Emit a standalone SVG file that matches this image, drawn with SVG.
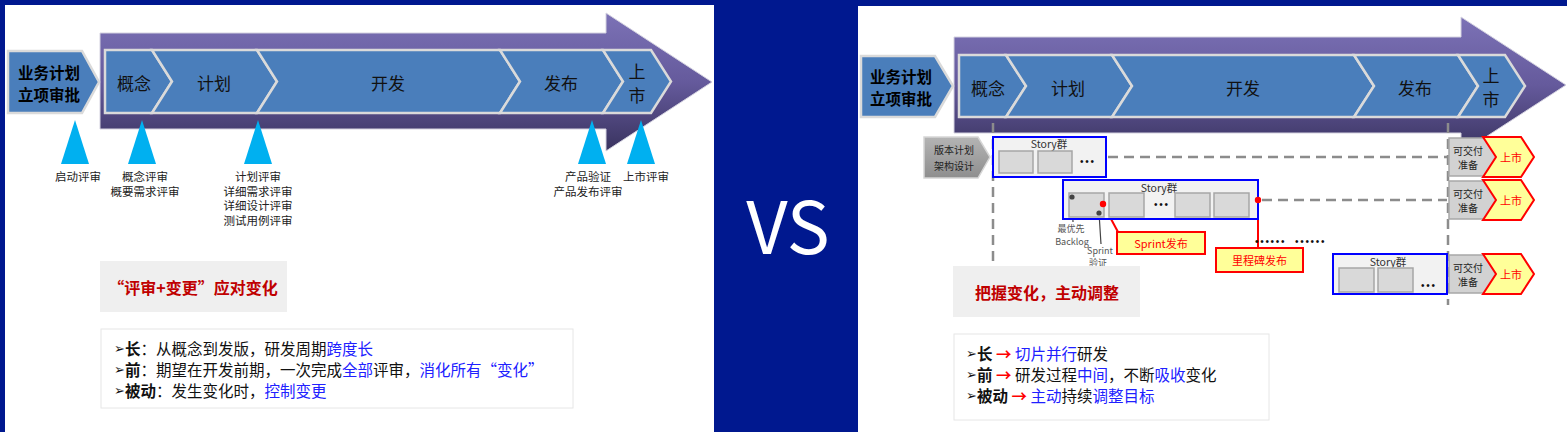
<svg xmlns="http://www.w3.org/2000/svg" width="1567" height="432" viewBox="0 0 1567 432">
<defs>
<linearGradient id="pg" x1="0" y1="0" x2="0" y2="1">
<stop offset="0" stop-color="#7c72b6"/>
<stop offset="0.5" stop-color="#655a9c"/>
<stop offset="1" stop-color="#39335f"/>
</linearGradient>
<linearGradient id="gg" x1="0" y1="0" x2="0" y2="1">
<stop offset="0" stop-color="#b4b4b4"/>
<stop offset="1" stop-color="#8e8e8e"/>
</linearGradient>
</defs>
<style>
text{font-family:"Noto Sans CJK SC","Noto Sans",sans-serif;dominant-baseline:central}
.stage{font-size:17px;fill:#111;text-anchor:middle}
.band{fill:#4a7ebb;stroke:#dadada;stroke-width:2.5}
.arrow{fill:url(#pg);stroke:#d4d2e0;stroke-width:1}
.tri{fill:#00b0f0}
.lbl{font-size:11.5px;fill:#222;text-anchor:middle}
.head{font-size:15.5px;font-weight:bold;fill:#000;text-anchor:middle}
.title{font-size:16px;font-weight:bold;fill:#c00000;text-anchor:middle}
.gbox{fill:#efefef}
.lbox{fill:#fff;stroke:#e6e6e6;stroke-width:1}
.list{font-size:15.5px;fill:#111}
.bul{font-size:13px;font-family:"DejaVu Sans",sans-serif}
.b{font-weight:bold}
.blue{fill:#2020ff}
.red{fill:#ff0000}
.story{fill:#f2f2f2;stroke:#0000ff;stroke-width:2}
.sbox{fill:#d9d9d9;stroke:#a6a6a6;stroke-width:1.5}
.stxt{font-size:10.5px;fill:#333;text-anchor:middle}
.dots{font-size:10px;fill:#111;font-family:"Liberation Sans",sans-serif;letter-spacing:1.7px}
.dash{stroke:#8c8c8c;stroke-width:2.5;stroke-dasharray:10 6;fill:none}
.gch{fill:#d2d2d2;stroke:#a8a8a8;stroke-width:1.5}
.ych{fill:#ffff99;stroke:#ff0000;stroke-width:2}
.rtxt{font-size:11px;fill:#ff0000;text-anchor:middle}
.ktxt{font-size:10px;fill:#222;text-anchor:middle}
.small{font-size:9px;fill:#555;text-anchor:middle}
.rline{stroke:#ff0000;stroke-width:2;fill:none}
.kline{stroke:#444;stroke-width:1.2;fill:none}
</style>

<rect x="0" y="0" width="1567" height="432" fill="#00188f"/>
<rect x="5" y="5" width="709" height="427" fill="#ffffff"/>
<rect x="858" y="6" width="709" height="426" fill="#ffffff"/>

<text x="788" y="222" font-family="Open Sans, Liberation Sans, sans-serif" font-size="72" fill="#ffffff" text-anchor="middle">VS</text>

<!-- LEFT PANEL -->
<g id="left-arrow">
<path class="arrow" d="M100,33 H606 V13 L712,82 L606,151 V129 H100 Z"/>
</g>
<g id="left-start">
<polygon class="band" points="8,51 82,51 99,82 82,113 8,113"/>
<text class="head" x="49" y="72">业务计划</text>
<text class="head" x="49" y="94">立项审批</text>
</g>
<g id="left-stage-concept">
<polygon class="band" points="105,50 152,50 172,81.5 152,113 105,113"/>
<text class="stage" x="134" y="82">概念</text>
</g>
<g id="left-stage-plan">
<polygon class="band" points="152,50 257,50 277,81.5 257,113 152,113 172,81.5"/>
<text class="stage" x="214" y="82">计划</text>
</g>
<g id="left-stage-dev">
<polygon class="band" points="257,50 500,50 520,81.5 500,113 257,113 277,81.5"/>
<text class="stage" x="388" y="82">开发</text>
</g>
<g id="left-stage-release">
<polygon class="band" points="500,50 603,50 623,81.5 603,113 500,113 520,81.5"/>
<text class="stage" x="561" y="82">发布</text>
</g>
<g id="left-stage-launch">
<polygon class="band" points="603,50 651,50 671,81.5 651,113 603,113 623,81.5"/>
<text class="stage" x="637" y="70">上</text>
<text class="stage" x="637" y="94">市</text>
</g>

<g id="review-start">
<polygon class="tri" points="75,120 61,164 89,164"/>
<text class="lbl" x="78" y="176">启动评审</text>
</g>
<g id="review-concept">
<polygon class="tri" points="142,120 128,164 156,164"/>
<text class="lbl" x="145" y="176">概念评审</text>
<text class="lbl" x="145" y="190.5">概要需求评审</text>
</g>
<g id="review-plan">
<polygon class="tri" points="258,120 244,164 272,164"/>
<text class="lbl" x="258" y="176">计划评审</text>
<text class="lbl" x="258" y="190.5">详细需求评审</text>
<text class="lbl" x="258" y="205">详细设计评审</text>
<text class="lbl" x="258" y="219.5">测试用例评审</text>
</g>
<g id="review-release">
<polygon class="tri" points="592,120 578,164 606,164"/>
<text class="lbl" x="588" y="176">产品验证</text>
<text class="lbl" x="588" y="190.5">产品发布评审</text>
</g>
<g id="review-launch">
<polygon class="tri" points="641,120 627,164 655,164"/>
<text class="lbl" x="646" y="176">上市评审</text>
</g>

<g id="left-title">
<rect class="gbox" x="100" y="261" width="187" height="51"/>
<text class="title" x="193" y="287">“评审+变更”应对变化</text>
</g>
<g id="left-list">
<rect class="lbox" x="101" y="329" width="472" height="79"/>
<text class="list" x="114" y="347.5"><tspan class="bul">➢</tspan><tspan class="b">长</tspan>：从概念到发版，研发周期<tspan class="blue">跨度长</tspan></text>
<text class="list" x="114" y="368.5"><tspan class="bul">➢</tspan><tspan class="b">前</tspan>：期望在开发前期，一次完成<tspan class="blue">全部</tspan>评审，<tspan class="blue">消化所有“变化”</tspan></text>
<text class="list" x="114" y="389.5"><tspan class="bul">➢</tspan><tspan class="b">被动</tspan>：发生变化时，<tspan class="blue">控制变更</tspan></text>
</g>

<!-- RIGHT PANEL -->
<g id="right-arrow">
<path class="arrow" d="M954,37 H1461 V17 L1566,85 L1461,153 V133 H954 Z"/>
</g>
<g id="right-start">
<polygon class="band" points="861,56 935,56 953,86 935,117 861,117"/>
<text class="head" x="901" y="76">业务计划</text>
<text class="head" x="901" y="98">立项审批</text>
</g>
<g id="right-stage-concept">
<polygon class="band" points="959,55 1006,55 1026,86 1006,117 959,117"/>
<text class="stage" x="988" y="87">概念</text>
</g>
<g id="right-stage-plan">
<polygon class="band" points="1006,55 1112,55 1132,86 1112,117 1006,117 1026,86"/>
<text class="stage" x="1068" y="87">计划</text>
</g>
<g id="right-stage-dev">
<polygon class="band" points="1112,55 1354,55 1374,86 1354,117 1112,117 1132,86"/>
<text class="stage" x="1243" y="87">开发</text>
</g>
<g id="right-stage-release">
<polygon class="band" points="1354,55 1458,55 1478,86 1458,117 1354,117 1374,86"/>
<text class="stage" x="1415" y="87">发布</text>
</g>
<g id="right-stage-launch">
<polygon class="band" points="1458,55 1505,55 1525,86 1505,117 1458,117 1478,86"/>
<text class="stage" x="1491" y="74">上</text>
<text class="stage" x="1491" y="98">市</text>
</g>

<g id="connectors">
<line class="dash" x1="993" y1="123" x2="993" y2="266"/>
<line class="dash" x1="1448" y1="123" x2="1448" y2="305"/>
<line class="dash" x1="1108" y1="157" x2="1447" y2="157"/>
<line class="dash" x1="1262" y1="200" x2="1447" y2="200"/>
<line class="rline" x1="1103" y1="204" x2="1118" y2="232"/>
<line class="rline" x1="1258" y1="200" x2="1258" y2="248"/>
<line class="kline" x1="1072" y1="197" x2="1073" y2="222"/>
<line class="kline" x1="1099" y1="213" x2="1101" y2="244"/>
</g>

<g id="version-plan">
<polygon points="924,137 978,137 990,157 978,178 924,178" fill="url(#gg)" stroke="#d6d6d6" stroke-width="1.5"/>
<text class="ktxt" x="954" y="149.5" font-size="10.5">版本计划</text>
<text class="ktxt" x="954" y="165" font-size="10.5">架构设计</text>
</g>

<g id="story-1">
<rect class="story" x="993" y="137" width="113" height="40"/>
<text class="stxt" x="1049" y="143">Story群</text>
<rect class="sbox" x="999" y="151" width="34" height="22"/>
<rect class="sbox" x="1038" y="151" width="34" height="22"/>
<text class="dots" x="1080" y="161">•••</text>
</g>
<g id="story-2">
<rect class="story" x="1063" y="180" width="195" height="39"/>
<text class="stxt" x="1159" y="187">Story群</text>
<rect class="sbox" x="1069" y="193" width="35" height="24"/>
<rect class="sbox" x="1109" y="193" width="35" height="24"/>
<text class="dots" x="1154" y="204">•••</text>
<rect class="sbox" x="1175" y="193" width="35" height="24"/>
<rect class="sbox" x="1214" y="193" width="35" height="24"/>
</g>
<g id="story-3">
<rect class="story" x="1333" y="254" width="114" height="40"/>
<text class="stxt" x="1388" y="261">Story群</text>
<rect class="sbox" x="1339" y="268" width="35" height="24"/>
<rect class="sbox" x="1378" y="268" width="35" height="24"/>
<text class="dots" x="1421" y="285">•••</text>
</g>

<g id="markers">
<circle cx="1072" cy="197" r="2.6" fill="#444"/>
<circle cx="1099" cy="213" r="2.6" fill="#444"/>
<circle cx="1103" cy="204" r="3.2" fill="#ff0000"/>
<circle cx="1258" cy="200" r="3.2" fill="#ff0000"/>
<text class="small" x="1071" y="228.5">最优先</text>
<text class="small" x="1072" y="241">Backlog</text>
<text class="small" x="1100" y="250.5">Sprint</text>
<text class="small" x="1098" y="262.5">验证</text>
</g>

<g id="sprint-release">
<rect class="ych" x="1117" y="232" width="88" height="22"/>
<text class="rtxt" x="1161" y="243">Sprint发布</text>
</g>
<g id="milestone-release">
<rect class="ych" x="1216" y="248" width="87" height="24"/>
<text class="rtxt" x="1259.5" y="260">里程碑发布</text>
</g>
<g id="dotted-gap">
<text class="dots" x="1255" y="241">••••••</text>
<text class="dots" x="1295" y="241">••••••</text>
</g>

<g id="deliver-1">
<polygon class="gch" points="1449,138 1486,138 1499,157 1486,176 1449,176"/>
<text class="ktxt" x="1468" y="150.5">可交付</text>
<text class="ktxt" x="1468" y="164">准备</text>
<polygon class="ych" points="1483,137 1521,137 1534,157 1521,177 1483,177 1496,157"/>
<text class="rtxt" x="1511" y="157">上市</text>
</g>
<g id="deliver-2">
<polygon class="gch" points="1449,181 1486,181 1499,200 1486,219 1449,219"/>
<text class="ktxt" x="1468" y="193.5">可交付</text>
<text class="ktxt" x="1468" y="207">准备</text>
<polygon class="ych" points="1483,180 1521,180 1534,200 1521,220 1483,220 1496,200"/>
<text class="rtxt" x="1511" y="200">上市</text>
</g>
<g id="deliver-3">
<polygon class="gch" points="1449,255 1486,255 1499,274 1486,293 1449,293"/>
<text class="ktxt" x="1468" y="267.5">可交付</text>
<text class="ktxt" x="1468" y="281">准备</text>
<polygon class="ych" points="1483,254 1521,254 1534,274 1521,294 1483,294 1496,274"/>
<text class="rtxt" x="1511" y="274">上市</text>
</g>

<g id="right-title">
<rect class="gbox" x="953" y="266" width="187" height="51"/>
<text class="title" x="1047" y="292">把握变化，主动调整</text>
</g>
<g id="right-list">
<rect class="lbox" x="954" y="334" width="315" height="86"/>
<text class="list" x="966" y="353"><tspan class="bul">➢</tspan><tspan class="b">长</tspan> <tspan class="red b">→</tspan> <tspan class="blue">切片并行</tspan>研发</text>
<text class="list" x="966" y="374"><tspan class="bul">➢</tspan><tspan class="b">前</tspan> <tspan class="red b">→</tspan> 研发过程<tspan class="blue">中间</tspan>，不断<tspan class="blue">吸收</tspan>变化</text>
<text class="list" x="966" y="395"><tspan class="bul">➢</tspan><tspan class="b">被动</tspan> <tspan class="red b">→</tspan> <tspan class="blue">主动</tspan>持续<tspan class="blue">调整目标</tspan></text>
</g>
</svg>
